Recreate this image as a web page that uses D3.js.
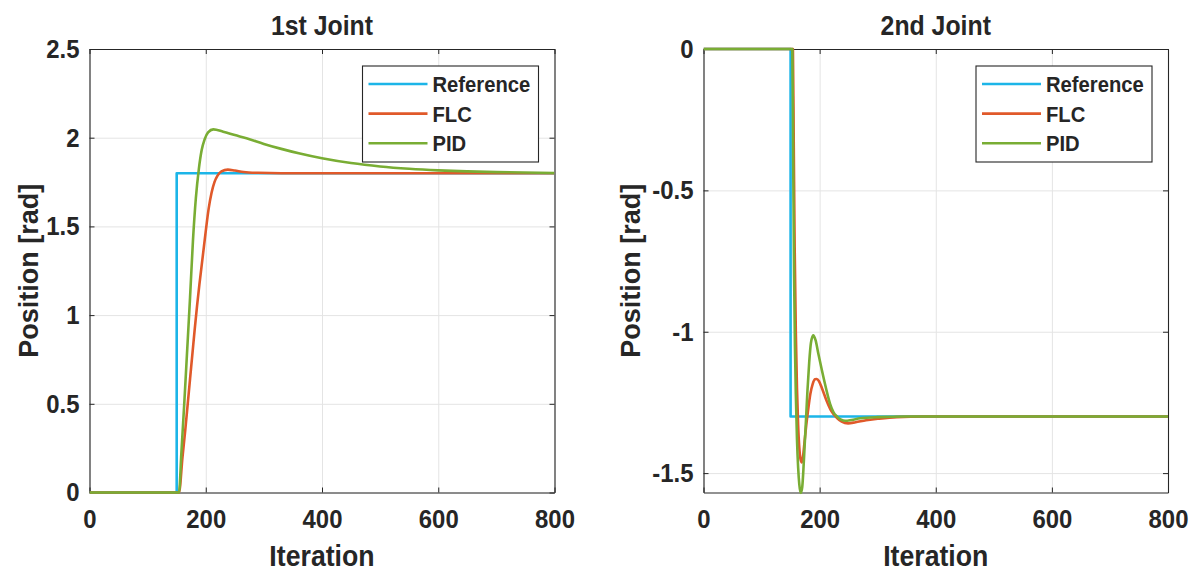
<!DOCTYPE html>
<html>
<head>
<meta charset="utf-8">
<script src="https://cdn.jsdelivr.net/npm/d3@7"></script>
<style>
  body { margin: 0; background: #fff; }
  text { font-family: "Liberation Sans", Arial, sans-serif; font-weight: bold; fill: #262626; }
  .sx  { transform-box: fill-box; transform-origin: 50% 50%; transform: scaleX(0.92); }
  .sxr { transform-box: fill-box; transform-origin: 100% 50%; transform: scaleX(0.92); }
  .sxl { transform-box: fill-box; transform-origin: 0% 50%; transform: scaleX(0.92); }
</style>
</head>
<body>
<svg id="chart" width="1195" height="574"></svg>
<script>
// ticks
var iterTicks = [0, 200, 400, 600, 800];
var j1Ticks = [0, 0.5, 1, 1.5, 2, 2.5];
var j2Ticks = [-1.5, -1, -0.5, 0];

var seriesNames = ["Reference", "FLC", "PID"];
var seriesColors = ["#1cb5e8", "#e0592a", "#79ad34"];

// 1st joint, [iteration, position]
var j1Ref = [[0, 0], [150, 0], [150, 1.8], [800, 1.8]];
var j1Flc = [[0, 0], [154, 0], [160, 0.2], [165, 0.36], [169, 0.5], [173, 0.64], [177, 0.78],
  [181, 0.92], [185, 1.05], [189, 1.17], [193, 1.28], [197, 1.39], [201, 1.5], [205, 1.6],
  [210, 1.69], [215, 1.75], [220, 1.785], [227, 1.81], [238, 1.82], [250, 1.815],
  [265, 1.807], [290, 1.802], [330, 1.8], [800, 1.8]];
var j1Pid = [[0, 0], [154, 0], [158, 0.22], [163, 0.5], [168, 0.8], [173, 1.1], [178, 1.42],
  [183, 1.66], [188, 1.82], [193, 1.93], [198, 1.99], [204, 2.03], [213, 2.047], [230, 2.034],
  [250, 2.015], [270, 1.997], [300, 1.965], [330, 1.937], [360, 1.912], [400, 1.884],
  [450, 1.857], [500, 1.838], [550, 1.825], [600, 1.816], [650, 1.81], [700, 1.806], [800, 1.801]];

// 2nd joint
var j2Ref = [[0, 0], [150, 0], [150, -1.3], [800, -1.3]];
var j2Flc = [[0, 0], [154, 0], [155.5, -0.35], [157, -0.7], [159, -1.0], [161, -1.2],
  [163, -1.33], [165, -1.41], [167, -1.45], [169.3, -1.462], [171.5, -1.44], [174, -1.39],
  [177, -1.33], [180, -1.28], [184, -1.22], [188, -1.185], [192, -1.168], [195, -1.167],
  [199, -1.175], [204, -1.2], [212, -1.244], [220, -1.28], [230, -1.305], [238, -1.318],
  [249, -1.324], [262, -1.32], [280, -1.313], [300, -1.308], [333, -1.302], [380, -1.3], [800, -1.3]];
var j2Pid = [[0, 0], [153, 0], [154.5, -0.4], [156, -0.8], [157.5, -1.05], [159, -1.22],
  [161, -1.38], [163, -1.48], [165, -1.54], [167.5, -1.57], [170, -1.55], [172, -1.49],
  [174, -1.41], [176.8, -1.3], [179, -1.21], [182, -1.11], [185, -1.04], [189, -1.013],
  [193, -1.03], [198, -1.08], [204, -1.137], [211, -1.2], [218, -1.255], [224, -1.285],
  [230, -1.3], [237, -1.311], [244, -1.315], [255, -1.312], [270, -1.306], [300, -1.302],
  [350, -1.3], [800, -1.3]];

var svg = d3.select("#chart");

function drawPanel(p) {
  var g = svg.append("g");
  var x = d3.scaleLinear().domain([0, 800]).range([p.left, p.right]);
  var y = d3.scaleLinear().domain(p.yDomain).range([p.bottom, p.top]);
  var h = p.bottom - p.top, w = p.right - p.left;

  // grid
  var grid = g.append("g");
  grid.append("g").attr("transform", `translate(0,${p.bottom})`)
    .call(d3.axisBottom(x).tickValues(iterTicks).tickSize(-h).tickFormat(""));
  grid.append("g").attr("transform", `translate(${p.left},0)`)
    .call(d3.axisLeft(y).tickValues(p.yTicks).tickSize(-w).tickFormat(""));
  grid.selectAll(".domain").remove();
  grid.selectAll("line").attr("stroke", "#e4e4e4");

  // box + inward ticks
  var fmt = d => String(d);
  var box = g.append("g");
  var axB = box.append("g").attr("transform", `translate(0,${p.bottom})`)
    .call(d3.axisBottom(x).tickValues(iterTicks).tickSize(-5).tickSizeOuter(0).tickPadding(17).tickFormat(fmt));
  var axL = box.append("g").attr("transform", `translate(${p.left},0)`)
    .call(d3.axisLeft(y).tickValues(p.yTicks).tickSize(-5).tickSizeOuter(0).tickPadding(10).tickFormat(fmt));
  box.append("g").attr("transform", `translate(0,${p.top})`)
    .call(d3.axisTop(x).tickValues(iterTicks).tickSize(-5).tickSizeOuter(0).tickFormat(""));
  box.append("g").attr("transform", `translate(${p.right},0)`)
    .call(d3.axisRight(y).tickValues(p.yTicks).tickSize(-5).tickSizeOuter(0).tickFormat(""));
  box.selectAll(".domain, .tick line").attr("stroke", "#262626");
  box.selectAll(".domain").attr("stroke-width", 1.1);
  box.selectAll("g").attr("font-family", null).attr("font-size", null);
  axB.selectAll("text").attr("font-size", 26).attr("fill", "#262626").attr("class", "sx");
  axL.selectAll("text").attr("font-size", 26).attr("fill", "#262626").attr("class", "sxr");

  // data lines
  var clipId = "clip" + p.id;
  svg.append("clipPath").attr("id", clipId).append("rect")
    .attr("x", p.left).attr("y", p.top - 2).attr("width", w).attr("height", h + 4);
  var lineStep = d3.line().x(d => x(d[0])).y(d => y(d[1]));
  var lineSmooth = d3.line().x(d => x(d[0])).y(d => y(d[1])).curve(d3.curveMonotoneX);
  var dg = g.append("g").attr("clip-path", `url(#${clipId})`);
  p.series.forEach(function (s, i) {
    dg.append("path").datum(s)
      .attr("d", i === 0 ? lineStep(s) : lineSmooth(s))
      .attr("fill", "none").attr("stroke", seriesColors[i])
      .attr("stroke-width", 2.6).attr("stroke-linejoin", "round");
  });

  // titles and labels
  g.append("text").attr("class", "sx").attr("x", (p.left + p.right) / 2).attr("y", 35)
    .attr("text-anchor", "middle").attr("font-size", 27).text(p.title);
  g.append("text").attr("class", "sx").attr("x", (p.left + p.right) / 2).attr("y", 566)
    .attr("text-anchor", "middle").attr("font-size", 29).text("Iteration");
  g.append("text").attr("transform", `translate(${p.left - p.labelGap},${(p.top + p.bottom) / 2}) rotate(-90)`)
    .attr("text-anchor", "middle").attr("font-size", 27).text("Position [rad]");

  // legend
  var lx = p.right - 16 - 176, ly = 66;
  var lg = g.append("g");
  lg.append("rect").attr("x", lx).attr("y", ly).attr("width", 176).attr("height", 96)
    .attr("fill", "#fff").attr("stroke", "#262626").attr("stroke-width", 1.1);
  seriesNames.forEach(function (name, i) {
    var yy = ly + 18 + i * 29.6;
    lg.append("line").attr("x1", lx + 6).attr("x2", lx + 65).attr("y1", yy).attr("y2", yy)
      .attr("stroke", seriesColors[i]).attr("stroke-width", 2.6);
    lg.append("text").attr("class", "sxl").attr("x", lx + 70).attr("y", yy + 8)
      .attr("font-size", 22).text(name);
  });
}

drawPanel({ id: 1, left: 89.5, right: 554.5, top: 49, bottom: 492.5, yDomain: [0, 2.5],
  yTicks: j1Ticks, title: "1st Joint", labelGap: 52, series: [j1Ref, j1Flc, j1Pid] });
drawPanel({ id: 2, left: 703.5, right: 1168, top: 49, bottom: 492.5, yDomain: [-1.5686, 0],
  yTicks: j2Ticks, title: "2nd Joint", labelGap: 64, series: [j2Ref, j2Flc, j2Pid] });
</script>
</body>
</html>
